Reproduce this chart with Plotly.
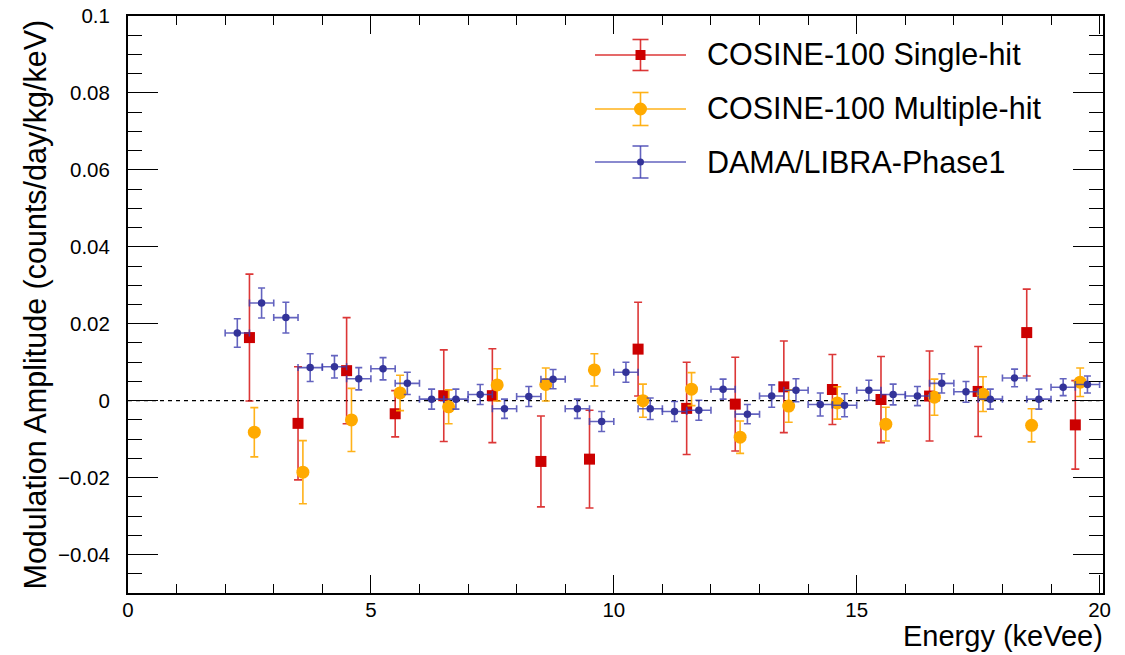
import plotly.graph_objects as go

# COSINE-100 single-hit modulation amplitudes (1 keV bins)
single_energy = [2.5, 3.5, 4.5, 5.5, 6.5, 7.5, 8.5, 9.5, 10.5, 11.5, 12.5, 13.5,
                 14.5, 15.5, 16.5, 17.5, 18.5, 19.5]
single_amp = [0.0164, -0.0059, 0.0078, -0.0034, 0.0013, 0.0013, -0.0158, -0.0152,
              0.0134, -0.0020, -0.0009, 0.0036, 0.0029, 0.0003, 0.0012, 0.0024,
              0.0177, -0.0063]
single_err = [0.0165, 0.0147, 0.0138, 0.0060, 0.0119, 0.0122, 0.0118, 0.0127,
              0.0122, 0.0120, 0.0122, 0.0119, 0.0091, 0.0112, 0.0117, 0.0117,
              0.0113, 0.0115]

# COSINE-100 multiple-hit modulation amplitudes (shifted by 0.1 keV for visibility)
multi_energy = [2.6, 3.6, 4.6, 5.6, 6.6, 7.6, 8.6, 9.6, 10.6, 11.6, 12.6, 13.6,
                14.6, 15.6, 16.6, 17.6, 18.6, 19.6]
multi_amp = [-0.0082, -0.0186, -0.0050, 0.0020, -0.0016, 0.0041, 0.0042, 0.0080,
             0.0000, 0.0030, -0.0095, -0.0014, -0.0006, -0.0061, 0.0009, 0.0017,
             -0.0064, 0.0048]
multi_err = [0.0064, 0.0082, 0.0082, 0.0046, 0.0044, 0.0042, 0.0043, 0.0042,
             0.0043, 0.0043, 0.0042, 0.0042, 0.0042, 0.0044, 0.0047, 0.0045,
             0.0043, 0.0037]

# DAMA/LIBRA-Phase1 modulation amplitudes (0.5 keV bins)
dama_energy = [2.25, 2.75, 3.25, 3.75, 4.25, 4.75, 5.25, 5.75, 6.25, 6.75, 7.25, 7.75,
               8.25, 8.75, 9.25, 9.75, 10.25, 10.75, 11.25, 11.75, 12.25, 12.75, 13.25,
               13.75, 14.25, 14.75, 15.25, 15.75, 16.25, 16.75, 17.25, 17.75, 18.25,
               18.75, 19.25, 19.75]
dama_amp = [0.0176, 0.0254, 0.0216, 0.0086, 0.0088, 0.0057, 0.0083, 0.0045, 0.0004,
            0.0004, 0.0016, -0.0021, 0.0011, 0.0056, -0.0021, -0.0054, 0.0074, -0.0021,
            -0.0028, -0.0025, 0.0030, -0.0035, 0.0012, 0.0027, -0.0010, -0.0012, 0.0027,
            0.0016, 0.0012, 0.0045, 0.0023, 0.0004, 0.0059, 0.0004, 0.0035, 0.0042]
dama_err = [0.0037, 0.0039, 0.0040, 0.0036, 0.0029, 0.0029, 0.0029, 0.0029, 0.0026,
            0.0026, 0.0026, 0.0025, 0.0026, 0.0025, 0.0025, 0.0026, 0.0026, 0.0028,
            0.0026, 0.0026, 0.0026, 0.0025, 0.0029, 0.0030, 0.0030, 0.0030, 0.0026,
            0.0027, 0.0025, 0.0025, 0.0027, 0.0026, 0.0023, 0.0026, 0.0022, 0.0022]
dama_bin_half = [0.25] * len(dama_energy)

series_names = ["COSINE-100 Single-hit", "COSINE-100 Multiple-hit", "DAMA/LIBRA-Phase1"]

RED, RED_LINE = "#cc0000", "rgba(214,20,20,0.85)"
ORANGE, ORANGE_LINE = "#ffaa00", "rgba(255,170,0,0.9)"
BLUE, BLUE_LINE = "#333399", "rgba(60,60,175,0.8)"
FONT = "Liberation Sans, Arial, Helvetica, sans-serif"

fig = go.Figure()

fig.add_trace(go.Scatter(
    x=single_energy, y=single_amp, mode="markers", name=series_names[0],
    marker=dict(symbol="square", size=11, color=RED, line=dict(width=0)),
    error_y=dict(type="data", array=single_err, color=RED_LINE, thickness=1.6, width=4),
))
fig.add_trace(go.Scatter(
    x=multi_energy, y=multi_amp, mode="markers", name=series_names[1],
    marker=dict(symbol="circle", size=13, color=ORANGE, line=dict(width=0)),
    error_y=dict(type="data", array=multi_err, color=ORANGE_LINE, thickness=1.6, width=4),
))
fig.add_trace(go.Scatter(
    x=dama_energy, y=dama_amp, mode="markers", name=series_names[2],
    marker=dict(symbol="circle", size=7.5, color=BLUE, line=dict(width=0)),
    error_y=dict(type="data", array=dama_err, color=BLUE_LINE, thickness=1.6, width=3.5),
    error_x=dict(type="data", array=dama_bin_half, color=BLUE_LINE, thickness=1.6, width=3.5),
))

# plot area in pixels (for placing the hand-drawn legend)
W, H = 1125, 655
ML, MR, MT, MB = 128, 22, 16, 62
PW, PH = W - ML - MR, H - MT - MB


def px(xp):
    return (xp - ML) / PW


def py(yp):
    return (MT + PH - yp) / PH


shapes = [
    dict(type="line", xref="x", yref="y", x0=0, x1=20, y0=0, y1=0,
         line=dict(color="black", width=1.4, dash="4px,4px"), layer="below"),
]
annotations = []

legend_rows = [
    (55, RED, RED_LINE, "square", 10, 15.5),
    (109, ORANGE, ORANGE_LINE, "circle", 13, 16.5),
    (162, BLUE, BLUE_LINE, "circle", 7, 16),
]
for name, (ry, mcol, lcol, sym, msz, half) in zip(series_names, legend_rows):
    cx = 640.5
    shapes.append(dict(type="line", xref="paper", yref="paper", x0=px(595), x1=px(686),
                       y0=py(ry), y1=py(ry), line=dict(color=lcol, width=1.6)))
    shapes.append(dict(type="line", xref="paper", yref="paper", x0=px(cx), x1=px(cx),
                       y0=py(ry - half), y1=py(ry + half), line=dict(color=lcol, width=1.6)))
    for cy in (ry - half, ry + half):
        shapes.append(dict(type="line", xref="paper", yref="paper", x0=px(cx - 8), x1=px(cx + 8),
                           y0=py(cy), y1=py(cy), line=dict(color=lcol, width=1.6)))
    r = msz / 2
    shapes.append(dict(type="rect" if sym == "square" else "circle", xref="paper", yref="paper",
                       x0=px(cx - r), x1=px(cx + r), y0=py(ry + r), y1=py(ry - r),
                       fillcolor=mcol, line=dict(width=0)))
    annotations.append(dict(text=name, xref="paper", yref="paper", x=px(705), y=py(ry),
                            xanchor="left", yanchor="middle", showarrow=False,
                            font=dict(family=FONT, size=30.5, color="black")))

annotations.append(dict(text="Energy (keVee)", xref="paper", yref="paper", x=1, y=0,
                        xanchor="right", yanchor="top", yshift=-25, xshift=2, showarrow=False,
                        font=dict(family=FONT, size=29, color="black")))
annotations.append(dict(text="Modulation Amplitude (counts/day/kg/keV)", xref="paper",
                        yref="paper", x=0, y=0.5, xanchor="center", yanchor="middle",
                        xshift=-93, textangle=-90, showarrow=False,
                        font=dict(family=FONT, size=30.5, color="black")))

axis_common = dict(
    showgrid=False, zeroline=False, showline=True, linecolor="black", linewidth=2,
    mirror="allticks", ticks="inside", tickcolor="black", tickwidth=1, automargin=False,
    tickfont=dict(family=FONT, size=20.5, color="black"),
)

fig.update_layout(
    width=W, height=H,
    margin=dict(l=ML, r=MR, t=MT, b=MB, autoexpand=False),
    paper_bgcolor="white", plot_bgcolor="white",
    showlegend=False,
    shapes=shapes, annotations=annotations,
    xaxis=dict(range=[0, 20.07], tick0=0, dtick=5, ticklen=18, ticklabelstandoff=-3,
               minor=dict(dtick=1, ticks="inside", ticklen=9, tickcolor="black", tickwidth=1),
               **axis_common),
    yaxis=dict(range=[-0.05, 0.1], tick0=0, dtick=0.02, ticklen=30, ticklabelstandoff=12,
               minor=dict(dtick=0.005, ticks="inside", ticklen=14, tickcolor="black", tickwidth=1),
               **axis_common),
)

fig.write_html("out.html")
